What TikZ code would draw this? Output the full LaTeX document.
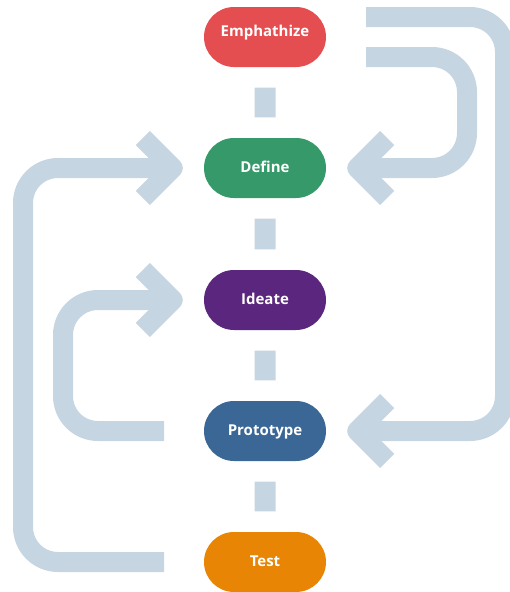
\documentclass[tikz,border=0pt]{standalone}
\usepackage{fontspec}
\setmainfont{Open Sans}
\usetikzlibrary{shapes.misc}
\usetikzlibrary{calc}

\definecolor{flowgray}{HTML}{C5D5E1}
\definecolor{empred}{HTML}{E54E50}
\definecolor{defgreen}{HTML}{35996A}
\definecolor{idepurple}{HTML}{5B277E}
\definecolor{problue}{HTML}{3A6796}
\definecolor{tstorange}{HTML}{E88504}

\tikzset{
  stage/.style={rounded rectangle, fill=#1, text=white, font=\bfseries\fontsize{15}{18}\selectfont,
    minimum width=122pt, minimum height=60pt, inner sep=0pt, text height=11pt, text depth=3pt},
  link/.style={draw=flowgray, line width=21pt, shorten <=20.5pt, shorten >=20.5pt},
  backloop/.style={draw=flowgray, line width=20pt, rounded corners=35pt},
  chevron/.style={draw=flowgray, line width=20pt, line join=round},
}

\begin{document}
\begin{tikzpicture}[x=1pt,y=-1pt]
\useasboundingbox (0,0) rectangle (509,592);
% stages
\node[stage=empred, text depth=13pt] (emp) at (265,37) {Emphathize};
\node[stage=defgreen] (def) at (265,168) {Define};
\node[stage=idepurple] (ide) at (265,300) {Ideate};
\node[stage=problue] (pro) at (265,431) {Prototype};
\node[stage=tstorange] (tst) at (265,562) {Test};
% dashes between stages
\draw[link] (emp) -- (def);
\draw[link] (def) -- (ide);
\draw[link] (ide) -- (pro);
\draw[link] (pro) -- (tst);
% loops back
\coordinate (r1) at (366,17);
\coordinate (r2) at (366,57);
\coordinate (l1) at (164,562);
\coordinate (l2) at (164,431);
\coordinate (t1) at ($(pro.east)+(31,0)$);
\coordinate (t2) at ($(def.east)+(31,0)$);
\coordinate (t3) at ($(def.west)+(-31,0)$);
\coordinate (t4) at ($(ide.west)+(-31,0)$);
\draw[backloop] (r1) -- (505,17) -- (505,431) -- (t1);
\draw[backloop] (r2) -- (467,57) -- (467,168) -- (t2);
\draw[backloop] (l1) -- (23,562) -- (23,168) -- (t3);
\draw[backloop] (l2) -- (63,431) -- (63,300) -- (t4);
\foreach \t/\s in {t1/1, t2/1, t3/-1, t4/-1}
  \draw[chevron] ($(\t)+(\s*30,-30)$) -- (\t) -- ($(\t)+(\s*30,30)$);
\end{tikzpicture}
\end{document}
